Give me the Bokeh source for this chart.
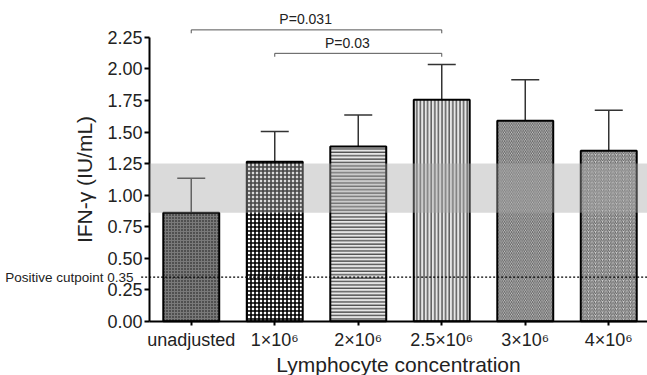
from bokeh.plotting import figure
from bokeh.models import (ColumnDataSource, FixedTicker, NumeralTickFormatter, Whisker,
                          TeeHead, BoxAnnotation, LinearAxis)
from bokeh.embed import file_html
from bokeh.resources import INLINE

# ---- data ----
categories = ["unadjusted", "1×10⁶", "2×10⁶", "2.5×10⁶", "3×10⁶", "4×10⁶"]
means = [0.86, 1.265, 1.385, 1.755, 1.59, 1.352]
upper_err = [1.133, 1.505, 1.635, 2.035, 1.915, 1.672]
y_ticks = [0.0, 0.25, 0.5, 0.75, 1.0, 1.25, 1.5, 1.75, 2.0, 2.25]
band_low, band_high = 0.86, 1.25
cutpoint = 0.35
cutpoint_label = "Positive cutpoint 0.35"
comparisons = [(0, 3, "P=0.031", 2.31), (1, 3, "P=0.03", 2.124)]

# ---- styles ----
FONT = "Liberation Sans"
TXT = "#222222"
fills = ["#7a7a7a", "#ffffff", "#e6e6e6", "#e6e6e6", "#d0d0d0", "#d0d0d0"]
hatches = ["dot", "cross", "horizontal_line", "vertical_line",
           "left_diagonal_line", "right_diagonal_line"]
hatch_colors = ["#111111", "#000000", "#3a3a3a", "#3a3a3a", "#555555", "#555555"]
hatch_scales = [3, 4, 3.4, 3.6, 3.5, 3.5]
hatch_weights = [1, 1.6, 1.2, 1.2, 0.9, 0.9]

xs = list(range(len(categories)))
x_left, x_right = -0.5, 5.464
src = ColumnDataSource(dict(x=xs, top=means, up=upper_err, fill=fills, hatch=hatches,
                            hcol=hatch_colors, hscale=hatch_scales, hw=hatch_weights))

p = figure(width=647, height=375, output_backend="svg", toolbar_location=None,
           x_range=(-2.2844, x_right), y_range=(-0.4306, 2.543),
           min_border_left=0, min_border_right=0, min_border_top=0, min_border_bottom=0)
p.outline_line_color = None
p.grid.visible = False
p.background_fill_color = "white"
p.border_fill_color = "white"

p.vbar(x="x", top="top", bottom=0, width=0.67, source=src,
       fill_color="fill", line_color="black", line_width=2,
       hatch_pattern="hatch", hatch_color="hcol", hatch_scale="hscale", hatch_weight="hw")

wh = Whisker(base="x", lower="top", upper="up", source=src,
             line_color="#333333", line_width=1.5,
             upper_head=TeeHead(size=28, line_color="#333333", line_width=1.5),
             lower_head=None)
p.add_layout(wh)

band = BoxAnnotation(left=x_left, bottom=band_low, top=band_high, fill_color="#a8a8a8",
                     fill_alpha=0.42, line_color=None, level="overlay")
p.add_layout(band)

p.line([x_left - 0.1, x_right], [cutpoint, cutpoint], line_color="black",
       line_width=1.3, line_dash="2 2")

for i, j, txt, yb in comparisons:
    p.line([xs[i], xs[i], xs[j], xs[j]], [yb - 0.027, yb, yb, yb - 0.027],
           line_color="#555555", line_width=1)
    p.text(x=[(xs[i] + xs[j]) / 2 - 0.13], y=[yb + 0.02], text=[txt], text_align="center",
           text_baseline="bottom", text_font={"value": FONT}, text_font_size="14px",
           text_color=TXT)

# axes (fixed inside the frame so that they can overlap like in the reference)
xa = p.xaxis[0]
xa.fixed_location = 0
xa.ticker = FixedTicker(ticks=xs)
xa.major_label_overrides = {i: c for i, c in enumerate(categories)}
xa.axis_label = "Lymphocyte concentration"
xa.bounds = (x_left, x_right)
ya = p.yaxis[0]
ya.fixed_location = x_left
ya.ticker = FixedTicker(ticks=y_ticks)
ya.formatter = NumeralTickFormatter(format="0.00")
ya.bounds = (0, 2.25)
ya.axis_label = "IFN-γ (IU/mL)"
for ax in (xa, ya):
    ax.axis_line_width = 2
    ax.axis_line_color = "black"
    ax.major_tick_line_width = 2
    ax.major_tick_line_color = "black"
    ax.major_tick_out = 5
    ax.major_tick_in = 0
    ax.minor_tick_line_color = None
    ax.major_label_text_font = FONT
    ax.major_label_text_font_size = "18px"
    ax.major_label_text_color = TXT
    ax.axis_label_text_font = FONT
    ax.axis_label_text_font_size = "21px"
    ax.axis_label_text_font_style = "normal"
    ax.axis_label_text_color = TXT
xa.major_tick_out = 4
xa.major_label_standoff = 5
xa.axis_label_standoff = -1
ya.major_label_standoff = 2
ya.axis_label_standoff = 8

cut_axis = LinearAxis(fixed_location=x_left, ticker=FixedTicker(ticks=[cutpoint]),
                      major_label_overrides={cutpoint: cutpoint_label})
cut_axis.axis_line_color = None
cut_axis.major_tick_line_color = None
cut_axis.minor_tick_line_color = None
cut_axis.major_label_standoff = 10
cut_axis.major_label_text_font = FONT
cut_axis.major_label_text_font_size = "13.5px"
cut_axis.major_label_text_color = TXT
p.add_layout(cut_axis, "left")

open("out.html", "w").write(file_html(p, INLINE))
